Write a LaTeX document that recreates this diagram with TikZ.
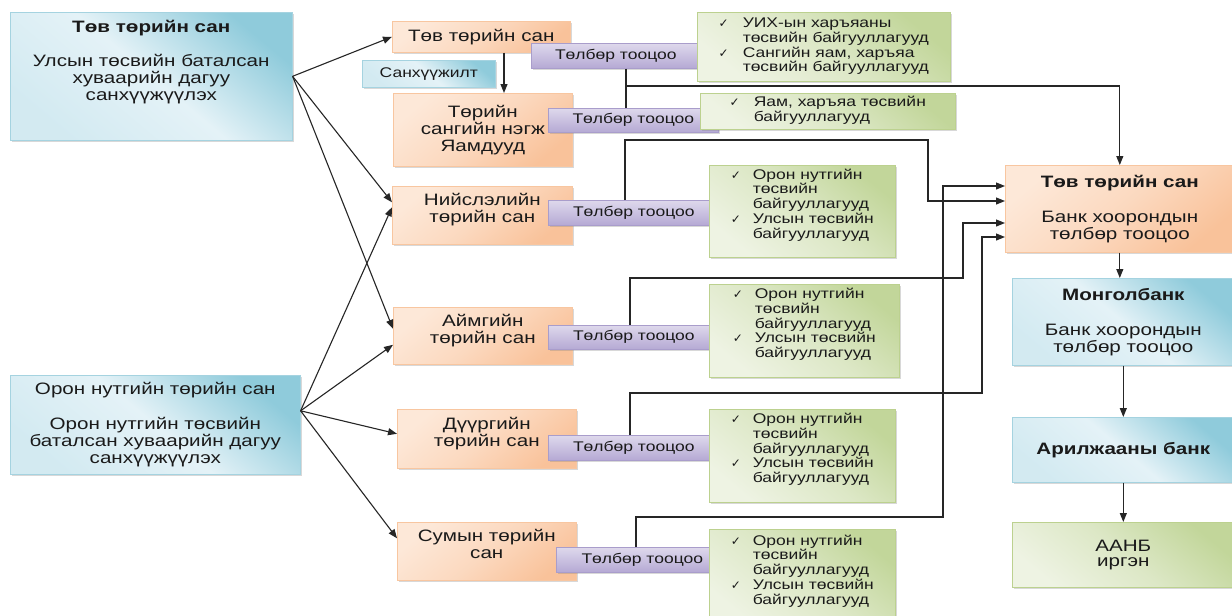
\documentclass[tikz,border=0pt]{standalone}
\usepackage{fontspec}
\setmainfont[FakeStretch=1.25]{Liberation Sans}
\newfontfamily\chkfont{DejaVu Sans}
\usetikzlibrary{arrows.meta,shadows,calc}
\definecolor{blueD}{HTML}{8FCBDB}
\definecolor{blueL}{HTML}{E4F2F7}
\definecolor{blueB}{HTML}{A5D3E0}
\definecolor{orD}{HTML}{F9C29A}
\definecolor{orL}{HTML}{FDE8D8}
\definecolor{orB}{HTML}{F8C6A0}
\definecolor{grD}{HTML}{C2D69A}
\definecolor{grL}{HTML}{EEF3E3}
\definecolor{grB}{HTML}{BCD18F}
\definecolor{puD}{HTML}{B5A9D4}
\definecolor{puL}{HTML}{F4F2F9}
\definecolor{puB}{HTML}{A99DCB}
\definecolor{txt}{HTML}{1A1A1A}
\definecolor{lin}{HTML}{262626}
\newcommand\txtL{\fontsize{16.5}{17}\selectfont}
\newcommand\txtS{\fontsize{14}{14.5}\selectfont}
\newcommand\ck{{\chkfont\fontsize{12}{14}\selectfont ✓}}
\tikzset{
  bx/.style={anchor=north west, align=center, inner sep=2pt, text=txt, font=\txtL,
    line width=0.6pt,
    drop shadow={shadow xshift=1.5pt,shadow yshift=-1.5pt,opacity=0.3}},
  bluebox/.style={bx, draw=blueB, top color=blueD, bottom color=blueL!80!blueD, middle color=blueL, shading angle=-40},
  orbox/.style={bx, draw=orB, top color=orL, bottom color=orD, middle color=orL!60!orD, shading angle=40},
  grbox/.style={bx, draw=grB, top color=grD, bottom color=grL, middle color=grL!60!grD, shading angle=-40, font=\txtS},
  pubox/.style={bx, draw=puB, top color=puD!35!puL, middle color=puL, bottom color=puD, font=\txtS},
  ln/.style={draw=lin, line width=1.1pt},
  arr/.style={ln, -{Triangle[length=9pt,width=7pt]}}
}
\begin{document}
\begin{tikzpicture}[x=1pt,y=-1pt]
\useasboundingbox[fill=white] (0,0) rectangle (1232,616);

% left boxes
\node[bluebox, minimum width=282pt, minimum height=128pt] (L1) at (10,12)
  {\textbf{Төв төрийн сан}\\[17pt] Улсын төсвийн баталсан\\ хуваарийн дагуу\\ санхүүжүүлэх\\[15pt]\mbox{}};
\node[bluebox, minimum width=290pt, minimum height=99pt] (L2) at (10,375)
  {Орон нутгийн төрийн сан\\[18pt] Орон нутгийн төсвийн\\ баталсан хуваарийн дагуу\\ санхүүжүүлэх};

% middle orange boxes
\node[orbox, minimum width=178pt, minimum height=31pt] (m1) at (392,21) {Төв төрийн сан};
\node[bluebox, font=\txtS, minimum width=133pt, minimum height=27pt] (fin) at (362,60) {Санхүүжилт};
\node[orbox, minimum width=179pt, minimum height=73pt] (m2) at (393,93) {Төрийн\\ сангийн нэгж\\ Яамдууд};
\node[orbox, minimum width=180pt, minimum height=58pt] (m3) at (392,186) {Нийслэлийн\\ төрийн сан\\[-3pt]\mbox{}};
\node[orbox, minimum width=179pt, minimum height=57pt] (m4) at (393,307) {Аймгийн\\ төрийн сан\\[-3pt]\mbox{}};
\node[orbox, minimum width=179pt, minimum height=59pt] (m5) at (397,409) {Дүүргийн\\ төрийн сан\\[-3pt]\mbox{}};
\node[orbox, minimum width=179pt, minimum height=58pt] (m6) at (397,522) {Сумын төрийн\\ сан\\[-3pt]\mbox{}};

% purple payment boxes
\node[pubox, minimum width=169pt, minimum height=25pt] (p1) at (531,43) {Төлбөр тооцоо};
\node[pubox, minimum width=170pt, minimum height=24pt] (p2) at (548,108) {Төлбөр тооцоо};
\node[pubox, minimum width=171pt, minimum height=25pt] (p3) at (548,200) {Төлбөр тооцоо};
\node[pubox, minimum width=171pt, minimum height=24pt] (p4) at (548,325) {Төлбөр тооцоо};
\node[pubox, minimum width=171pt, minimum height=25pt] (p5) at (548,435) {Төлбөр тооцоо};
\node[pubox, minimum width=172pt, minimum height=25pt] (p6) at (556,547) {Төлбөр тооцоо};

% green boxes
\node[grbox, minimum width=253pt, minimum height=69pt] (g1) at (697,12)
  {\begin{tabular}{@{}l@{\hspace{14pt}}l@{}}\ck & УИХ-ын харъяаны\\ & төсвийн байгууллагууд\\ \ck & Сангийн яам, харъяа\\ & төсвийн байгууллагууд\end{tabular}};
\node[grbox, minimum width=255pt, minimum height=36pt] (g2) at (700,93)
  {\begin{tabular}{@{}l@{\hspace{14pt}}l@{}}\ck & Яам, харъяа төсвийн\\ & байгууллагууд\end{tabular}};
\node[grbox, minimum width=186pt, minimum height=92pt] (g3) at (709,165)
  {\begin{tabular}{@{}l@{\hspace{12pt}}l@{}}\ck & Орон нутгийн\\ & төсвийн\\ & байгууллагууд\\ \ck & Улсын төсвийн\\ & байгууллагууд\\[-3pt] & \end{tabular}};
\node[grbox, minimum width=190pt, minimum height=93pt] (g4) at (709,284)
  {\begin{tabular}{@{}l@{\hspace{12pt}}l@{}}\ck & Орон нутгийн\\ & төсвийн\\ & байгууллагууд\\ \ck & Улсын төсвийн\\ & байгууллагууд\\[-3pt] & \end{tabular}};
\node[grbox, minimum width=186pt, minimum height=93pt] (g5) at (709,409)
  {\begin{tabular}{@{}l@{\hspace{12pt}}l@{}}\ck & Орон нутгийн\\ & төсвийн\\ & байгууллагууд\\ \ck & Улсын төсвийн\\ & байгууллагууд\\[-3pt] & \end{tabular}};
\node[grbox, minimum width=186pt, minimum height=96pt] (g6) at (709,529)
  {\begin{tabular}{@{}l@{\hspace{12pt}}l@{}}\ck & Орон нутгийн\\ & төсвийн\\ & байгууллагууд\\ \ck & Улсын төсвийн\\ & байгууллагууд\\[-3pt] & \end{tabular}};

% right column
\node[orbox, minimum width=229pt, minimum height=87pt] (tvr) at (1005,165)
  {\textbf{Төв төрийн сан}\\[18pt] Банк хоорондын\\ төлбөр тооцоо};
\node[bluebox, minimum width=222pt, minimum height=87pt] (mb) at (1012,278)
  {\textbf{Монголбанк}\\[18pt] Банк хоорондын\\ төлбөр тооцоо};
\node[bluebox, minimum width=222pt, minimum height=65pt] (ab) at (1012,417)
  {\textbf{Арилжааны банк}};
\node[grbox, font=\txtL, minimum width=222pt, minimum height=65pt] (aanb) at (1012,522)
  {ААНБ\\[-2pt] иргэн};

% connectors from left boxes
\draw[arr] (L1.east) -- (m1.west);
\draw[arr] (L1.east) -- ($(m3.west)+(0,-13)$);
\draw[arr] (L1.east) -- ($(m4.west)+(0,-7)$);
\coordinate (L2o) at ($(L2.east)+(0,-14)$);
\draw[arr] (L2o) -- ($(m3.west)+(0,-8)$);
\draw[arr] (L2o) -- ($(m4.west)+(0,9)$);
\draw[arr] (L2o) -- ($(m5.west)+(0,-5)$);
\draw[arr] (L2o) -- ($(m6.west)+(0,-13)$);

\coordinate (mx) at (504,0);
\draw[arr] (m1.south -| mx) -- (m2.north -| mx);

% payment lines
\coordinate (j1) at (626,86);
\draw[arr] (p1.south -| j1) -- (j1) -| (tvr.north);
\draw[ln] (p2.north -| j1) -- (j1);

\coordinate (c3a) at (625,140); \coordinate (c3b) at (928,201);
\draw[arr] (p3.north -| c3a) -- (c3a) -| (c3b) -- (tvr.west |- c3b);
\coordinate (c4a) at (630,278); \coordinate (c4b) at (963,223);
\draw[arr] (p4.north -| c4a) -- (c4a) -| (c4b) -- (tvr.west |- c4b);
\coordinate (c5a) at (630,393); \coordinate (c5b) at (982,237);
\draw[arr] (p5.north -| c5a) -- (c5a) -| (c5b) -- (tvr.west |- c5b);
\coordinate (c6a) at (636,517); \coordinate (c6b) at (943,186);
\draw[arr] (p6.north -| c6a) -- (c6a) -| (c6b) -- (tvr.west |- c6b);

% right column arrows
\draw[arr] (tvr.south) -- (tvr.south |- mb.north);
\draw[arr] (mb.south) -- (mb.south |- ab.north);
\draw[arr] (ab.south) -- (ab.south |- aanb.north);
\end{tikzpicture}
\end{document}
